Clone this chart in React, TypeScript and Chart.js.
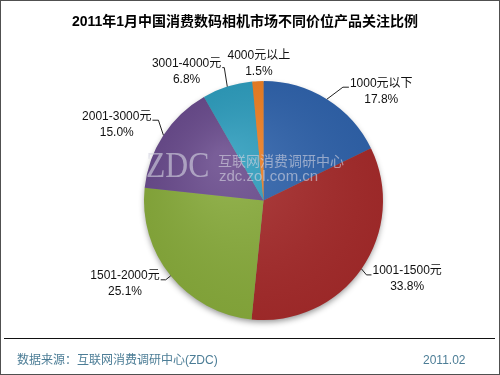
import React, { useEffect, useRef } from "react";
import { Chart, registerables } from "chart.js";

Chart.register(...registerables);

const TITLE = "2011年1月中国消费数码相机市场不同价位产品关注比例";
const SOURCE = "数据来源：互联网消费调研中心(ZDC)";
const DATE = "2011.02";

const categories = ["1000元以下", "1001-1500元", "1501-2000元", "2001-3000元", "3001-4000元", "4000元以上"];
const shares = [17.8, 33.8, 25.1, 15.0, 6.8, 1.5];
const colors = ["#3063AB", "#A52B2B", "#88AB3C", "#6A4C8D", "#2F9DBD", "#EE8024"];

// leader styling per slice: elbow offset from slice edge, horizontal tail length
const leaderDX = [16, 5, -5, -5, -3, 0];
const leaderDY = [-12, 6, 4, -15, -19, 0];
const leaderHoriz = [6, 5, 5, 6, 2, 0];

const FONT = "'Liberation Sans', 'Noto Sans CJK SC', sans-serif";

const decorPlugin = {
  id: "decor",
  beforeDraw(chart: any) {
    const ctx = chart.ctx;
    ctx.save();
    ctx.fillStyle = "#ffffff";
    ctx.fillRect(0, 0, chart.width, chart.height);
    ctx.fillStyle = "#000";
    ctx.font = `bold 14px ${FONT}`;
    ctx.textAlign = "center";
    ctx.textBaseline = "middle";
    ctx.fillText(TITLE, 245, 22);
    ctx.strokeStyle = "#111";
    ctx.lineWidth = 1;
    ctx.beginPath();
    ctx.moveTo(4, 338.5);
    ctx.lineTo(495, 338.5);
    ctx.stroke();
    ctx.fillStyle = "#4C7D96";
    ctx.font = `12px ${FONT}`;
    ctx.textAlign = "left";
    ctx.fillText(SOURCE, 17, 361);
    ctx.fillText(DATE, 423, 361);
    ctx.strokeStyle = "#505050";
    ctx.lineWidth = 1;
    ctx.strokeRect(0.5, 0.5, chart.width - 1, chart.height - 1);
    ctx.restore();
  },
  beforeDatasetsDraw(chart: any) {
    const meta = chart.getDatasetMeta(0);
    const a = meta.data[0];
    if (!a) return;
    const ctx = chart.ctx;
    ctx.save();
    ctx.shadowColor = "rgba(0,0,0,0.45)";
    ctx.shadowBlur = 6;
    ctx.shadowOffsetY = 3;
    ctx.fillStyle = "#888";
    ctx.beginPath();
    ctx.arc(a.x, a.y, a.outerRadius - 1, 0, Math.PI * 2);
    ctx.fill();
    ctx.restore();
  },
  afterDatasetsDraw(chart: any) {
    const ctx = chart.ctx;
    const meta = chart.getDatasetMeta(0);
    const a0 = meta.data[0];
    if (a0) {
      ctx.save();
      const g = ctx.createRadialGradient(a0.x - 40, a0.y - 40, 10, a0.x, a0.y, a0.outerRadius);
      g.addColorStop(0, "rgba(255,255,255,0.10)");
      g.addColorStop(1, "rgba(0,0,0,0.06)");
      ctx.fillStyle = g;
      ctx.beginPath();
      ctx.arc(a0.x, a0.y, a0.outerRadius, 0, Math.PI * 2);
      ctx.fill();
      ctx.restore();
    }
    // watermark
    ctx.save();
    ctx.fillStyle = "rgba(212,212,224,0.62)";
    ctx.textBaseline = "alphabetic";
    ctx.textAlign = "left";
    ctx.save();
    ctx.translate(146, 177);
    ctx.scale(0.88, 1);
    ctx.font = `36px 'Liberation Serif', serif`;
    ctx.fillText("ZDC", 0, 0);
    ctx.restore();
    ctx.textBaseline = "middle";
    ctx.font = `14px 'Noto Sans CJK SC', sans-serif`;
    ctx.fillText("互联网消费调研中心", 218, 161);
    ctx.font = `15px ${FONT}`;
    ctx.fillText("zdc.zol.com.cn", 219, 177);
    ctx.restore();

    // labels
    ctx.save();
    ctx.strokeStyle = "#222";
    ctx.lineWidth = 1;
    ctx.fillStyle = "#111";
    ctx.font = `12px ${FONT}`;
    ctx.textBaseline = "middle";
    ctx.textAlign = "center";
    meta.data.forEach((arc: any, i: number) => {
      const mid = (arc.startAngle + arc.endAngle) / 2;
      const dx = Math.cos(mid);
      const dy = Math.sin(mid);
      const r = arc.outerRadius;
      const sx = arc.x + dx * r;
      const sy = arc.y + dy * r;
      const l1 = categories[i];
      const l2 = shares[i].toFixed(1) + "%";
      const w = Math.max(ctx.measureText(l1).width, ctx.measureText(l2).width);
      if (Math.abs(dx) < 0.1) {
        const cx = sx + 1;
        ctx.fillText(l1, cx, sy - 25);
        ctx.fillText(l2, cx, sy - 9);
        return;
      }
      const ex = sx + leaderDX[i];
      const ey = sy + leaderDY[i];
      const side = dx >= 0 ? 1 : -1;
      const hx = ex + side * leaderHoriz[i];
      ctx.beginPath();
      ctx.moveTo(sx, sy);
      ctx.lineTo(ex, ey);
      ctx.lineTo(hx, ey);
      ctx.stroke();
      const cx = side > 0 ? hx + 1 + w / 2 : hx - 1 - w / 2;
      const y1 = ey - 4;
      ctx.fillText(l1, cx, y1);
      ctx.fillText(l2, cx, y1 + 16);
    });
    ctx.restore();
  },
};

export default function App() {
  const ref = useRef<HTMLCanvasElement>(null);
  useEffect(() => {
    if (!ref.current) return;
    const chart = new Chart(ref.current, {
      type: "pie",
      data: {
        labels: categories,
        datasets: [
          {
            data: shares,
            backgroundColor: colors,
            borderWidth: 0,
          },
        ],
      },
      options: {
        responsive: false,
        animation: false,
        layout: { padding: { left: 144, right: 117, top: 81, bottom: 55 } },
        plugins: {
          legend: { display: false },
          tooltip: { enabled: false },
          title: { display: false },
        },
      },
      plugins: [decorPlugin],
    });
    return () => chart.destroy();
  }, []);
  return (
    <div style={{ position: "absolute", left: 0, top: 0, width: 500, height: 375 }}>
      <canvas ref={ref} width={500} height={375} style={{ display: "block" }} />
    </div>
  );
}
